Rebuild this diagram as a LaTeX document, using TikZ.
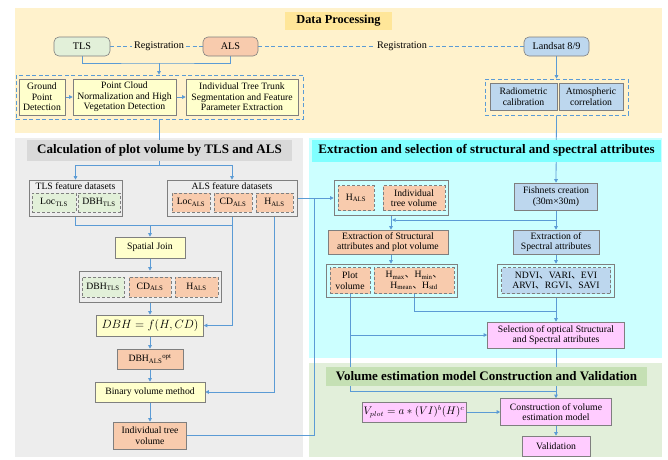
\documentclass[tikz,border=0pt]{standalone}
\usepackage{fontspec}
\setmainfont{Liberation Serif}
\newfontfamily\cjk{Noto Sans CJK SC}
\newcommand{\dun}{{\cjk 、}}
\usetikzlibrary{arrows.meta}
\definecolor{dpbg}{HTML}{FFF2CC}
\definecolor{dptitle}{HTML}{FFE699}
\definecolor{graybg}{HTML}{EDEDED}
\definecolor{graytitle}{HTML}{D9D9D9}
\definecolor{cyanbg}{HTML}{CCFFFF}
\definecolor{cyantitle}{HTML}{80FFFF}
\definecolor{greenbg}{HTML}{E2EFDA}
\definecolor{greentitle}{HTML}{C5E0B4}
\definecolor{yfill}{HTML}{FFFFCC}
\definecolor{ofill}{HTML}{F8CBAD}
\definecolor{gfill}{HTML}{E2F0D9}
\definecolor{bfill}{HTML}{BDD7EE}
\definecolor{pfill}{HTML}{FFCCFF}
\definecolor{bordergray}{HTML}{7F7F7F}
\definecolor{lineblue}{HTML}{5B9BD5}
\pgfdeclarelayer{bg}
\pgfdeclarelayer{lines}
\pgfsetlayers{bg,lines,main}
\begin{document}
\begin{tikzpicture}[x=1pt,y=-1pt,
  box/.style={draw=bordergray, line width=0.6pt, align=center, inner sep=1pt,
    font=\fontsize{9.7}{10.5}\selectfont},
  sz/.style 2 args={minimum width=#1pt, minimum height=#2pt},
  ybox/.style={box, fill=yfill},
  obox/.style={box, fill=ofill},
  gbox/.style={box, fill=gfill},
  bbox/.style={box, fill=bfill},
  pbox/.style={box, fill=pfill},
  dsh/.style={dashed, dash pattern=on 3pt off 2pt},
  cont/.style={box},
  rnd/.style={rounded corners=5pt},
  ttl/.style={inner sep=0pt, font=\fontsize{13}{15}\selectfont\bfseries},
  txt/.style={inner sep=2pt, font=\fontsize{10.2}{11}\selectfont},
  ln/.style={draw=lineblue, line width=0.8pt},
  arr/.style={ln, -{Triangle[length=3.5pt,width=3.5pt]}},
  dln/.style={ln, dash pattern=on 4pt off 2.5pt},
  dbox/.style={draw=lineblue, line width=0.7pt, dash pattern=on 4pt off 2.5pt}
]
\useasboundingbox (0,0) rectangle (668,459);
\begin{pgfonlayer}{bg}
\fill[dpbg] (15,8) rectangle (662,133);
\fill[graybg] (15,138) rectangle (303,457);
\fill[cyanbg] (309,138) rectangle (662,358);
\fill[greenbg] (309,363) rectangle (662,457);
\end{pgfonlayer}

% ---------- Data processing ----------
\node[ttl, fill=dptitle, sz={107}{18}, font=\fontsize{12.3}{14}\selectfont\bfseries] (tdp) at (338.5,21) {Data Processing};
\node[box, rnd, fill=gfill, sz={56}{19}, font=\fontsize{10.2}{11}\selectfont] (TLS) at (82,46.5) {TLS};
\node[box, rnd, fill=ofill, sz={55}{19}, font=\fontsize{10.2}{11}\selectfont] (ALS) at (230.5,46.5) {ALS};
\node[box, rnd, fill=bfill, sz={65}{19}, font=\fontsize{10.2}{11}\selectfont] (LS) at (556.5,46.5) {Landsat 8/9};
\node[txt] (reg1) at (159,46.5) {Registration};
\node[txt] (reg2) at (402,46.5) {Registration};
\node[dbox, sz={287}{44}, inner sep=0pt] (dp1) at (159.5,97) {};
\node[ybox, sz={46}{36}] (gpd) at (42,97) {Ground\\Point\\Detection};
\node[ybox, sz={103}{36}] (pcn) at (124.5,97) {Point Cloud\\Normalization and High\\Vegetation Detection};
\node[ybox, sz={112}{36}] (itt) at (242,97) {Individual Tree Trunk\\Segmentation and Feature\\Parameter Extraction};
\node[dbox, sz={143}{36}, inner sep=0pt] (dp2) at (556.5,97) {};
\node[bbox, sz={67}{27}] (rad) at (523.5,96.5) {Radiometric\\calibration};
\node[bbox, sz={64}{27}] (atm) at (591,96.5) {Atmospheric\\correlation};

% ---------- Gray panel ----------
\node[ttl, fill=graytitle, sz={265}{21}] (tg) at (159.5,150.5) {Calculation of plot volume by TLS and ALS};
\node[cont, sz={93}{36}] (tlsf) at (75.5,198) {};
\node[txt, inner sep=0pt, font=\fontsize{9.7}{10.5}\selectfont] (tlsfl) at (75.5,186.5) {TLS feature datasets};
\node[gbox, dsh, sz={44}{19}] (locT) at (54,202.5) {Loc\textsubscript{TLS}};
\node[gbox, dsh, sz={42}{19}] (dbhT) at (99,202.5) {DBH\textsubscript{TLS}};
\node[cont, sz={130}{36}] (alsf) at (232,198) {};
\node[txt, inner sep=0pt, font=\fontsize{9.7}{10.5}\selectfont] (alsfl) at (232,186.5) {ALS feature datasets};
\node[obox, dsh, sz={38}{19}] (locA) at (191,202.5) {Loc\textsubscript{ALS}};
\node[obox, dsh, sz={38}{19}] (cdA) at (233,202.5) {CD\textsubscript{ALS}};
\node[obox, dsh, sz={37}{19}] (hA) at (274.5,202.5) {H\textsubscript{ALS}};
\node[ybox, sz={70}{21}] (sj) at (150,247.5) {Spatial Join};
\node[cont, sz={142}{31}] (cmb) at (150,286.5) {};
\node[gbox, dsh, sz={42}{20}] (dbhT2) at (103,287) {DBH\textsubscript{TLS}};
\node[obox, dsh, sz={42}{20}] (cdA2) at (150,287) {CD\textsubscript{ALS}};
\node[obox, dsh, sz={43}{20}] (hA2) at (196.5,287) {H\textsubscript{ALS}};
\node[ybox, sz={107}{21}, font=\fontsize{11.5}{13}\selectfont] (dbhf) at (150,325.5) {$DBH = f(H,CD)$};
\node[obox, sz={66}{20}] (dbhopt) at (150,359) {DBH\textsubscript{ALS}\textsuperscript{opt}};
\node[ybox, sz={110}{20}] (bvm) at (150,392) {Binary volume method};
\node[obox, sz={73}{27}] (itv) at (150,435.5) {Individual tree\\volume};

% ---------- Cyan panel ----------
\node[ttl, fill=cyantitle, sz={349}{22}] (tc) at (486.5,150.5) {Extraction and selection of structural and spectral attributes};
\node[cont, sz={114}{35}] (box1) at (391,198) {};
\node[obox, dsh, sz={36}{25}] (hB) at (356,198) {H\textsubscript{ALS}};
\node[obox, dsh, sz={62}{25}] (itvB) at (414,198) {Individual\\tree volume};
\node[bbox, sz={83}{27}] (fish) at (556,196.5) {Fishnets creation\\(30m\texttimes30m)};
\node[obox, sz={120}{24}] (exS) at (388,242) {Extraction of Structural\\attributes and plot volume};
\node[bbox, sz={86}{24}] (exSp) at (556,242) {Extraction of\\Spectral attributes};
\node[cont, sz={131}{33}] (box2) at (391.5,280.5) {};
\node[obox, dsh, sz={40}{26}] (plotv) at (350,280.5) {Plot\\volume};
\node[obox, dsh, sz={80}{26}] (hstat) at (414,280.5) {H\textsubscript{max}\dun H\textsubscript{min}\dun\\H\textsubscript{mean}\dun H\textsubscript{std}};
\node[cont, sz={117}{33}] (ndvi) at (556,280.5) {};
\node[bbox, dsh, sz={109}{26}] (ndvii) at (556,280.5) {NDVI\dun VARI\dun EVI\\ARVI\dun RGVI\dun SAVI};
\node[pbox, sz={137}{26}] (sel) at (556,335) {Selection of optical Structural\\and Spectral attributes};

% ---------- Green panel ----------
\node[ttl, fill=greentitle, sz={321}{19}] (tv) at (486.5,376) {Volume estimation model Construction and Validation};
\node[pbox, sz={104}{20}, font=\fontsize{10.5}{12}\selectfont] (vplot) at (414,412) {$V_{plot} = a * (VI)^b (H)^c$};
\node[pbox, sz={111}{27}] (cons) at (556,412) {Construction of volume\\estimation model};
\node[pbox, sz={68}{20}] (valid) at (556,446) {Validation};

% ---------- Connectors ----------
\begin{pgfonlayer}{lines}
\draw[dln] (TLS.east) -- (reg1.west);
\draw[dln] (reg1.east) -- (ALS.west);
\draw[dln] (ALS.east) -- (reg2.west);
\draw[dln] (reg2.east) -- (LS.west);
\coordinate (j1) at (159,63);
\draw[ln] (TLS.south) |- (j1) -| (ALS.south);
\draw[arr] (j1) -- (j1 |- dp1.north);
\draw[arr] (LS.south) -- (dp2.north);
\draw[arr] (gpd.east) -- (pcn.west);
\draw[arr] (pcn.east) -- (itt.west);
% to gray panel
\coordinate (j2) at (159,165);
\draw[ln] (j1 |- dp1.south) -- (j2);
\draw[arr] (j2) -| (tlsf.north);
\draw[arr] (j2) -| (alsf.north);
\coordinate (j3) at (232,225);
\draw[ln] (tlsf.south) |- (j3);
\draw[arr] (alsf.south) |- (dbhf.east);
\draw[arr] (sj.north |- j3) -- (sj.north);
\draw[arr] (hA.south |- alsf.south) |- (bvm.east);
\draw[arr] (sj.south) -- (sj.south |- cmb.north);
\draw[arr] (sj.south |- cmb.south) -- (sj.south |- dbhf.north);
\draw[arr] (sj.south |- dbhf.south) -- (sj.south |- dbhopt.north);
\draw[arr] (dbhopt.south) -- (dbhopt.south |- bvm.north);
\draw[arr] (bvm.south) -- (bvm.south |- itv.north);
\coordinate (j5) at (314,198);
\draw[ln] (itv.east) -| (j5);
\draw[arr] (alsf.east) -- (box1.west);
% cyan panel
\draw[arr] (dp2.south) -- (fish.north);
\coordinate (j6) at (556,220);
\draw[ln] (fish.south) -- (j6);
\draw[arr] (j6) -- (exSp.north);
\draw[arr] (j6) -- ([xshift=1.2pt]box1.south |- j6);
\draw[arr] (box1.south) -- (box1.south |- exS.north);
\draw[arr] (box1.south |- exS.south) -- (box1.south |- box2.north);
\draw[arr] (exSp.south) -- (ndvi.north);
\coordinate (j7) at (556,311);
\draw[ln] (hstat.south) |- (j7);
\draw[arr] (ndvi.south) -- (sel.north);
\coordinate (j8) at (556,391);
\draw[ln] (plotv.south) |- (j8);
\draw[arr] (plotv.south |- sel.west) -- (sel.west);
\draw[ln] (sel.south) -- (j8);
\draw[arr] (j8) -- (cons.north);
\draw[arr] (vplot.east) -- (cons.west);
\draw[arr] (cons.south) -- (valid.north);
\end{pgfonlayer}
\end{tikzpicture}
\end{document}
